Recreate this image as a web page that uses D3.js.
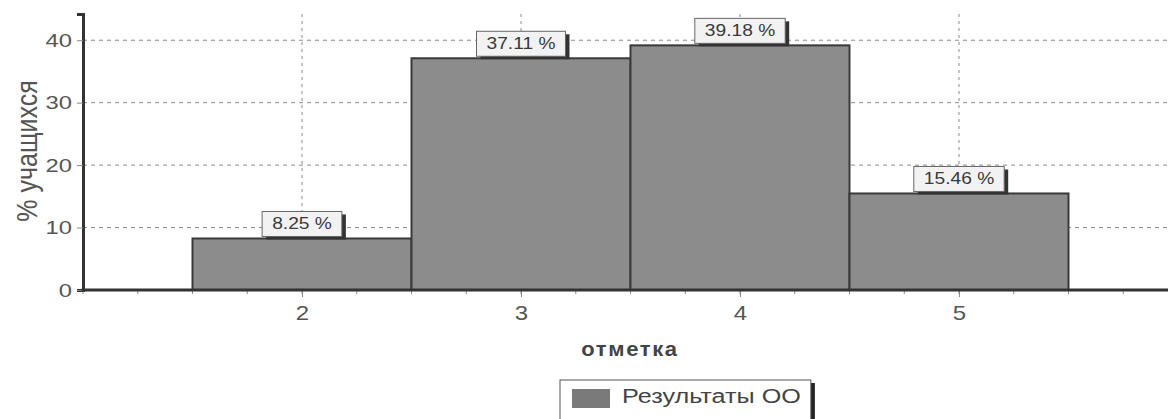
<!DOCTYPE html>
<html><head><meta charset="utf-8">
<script src="https://cdn.jsdelivr.net/npm/d3@7"></script>
<style>body{margin:0;background:#fff}svg{display:block}</style>
</head><body>
<svg id="c" width="1168" height="419"></svg>
<script>
const categories = [2, 3, 4, 5];
const values = [8.25, 37.11, 39.18, 15.46];
const labels = ["8.25 %", "37.11 %", "39.18 %", "15.46 %"];
const yTicks = [0, 10, 20, 30, 40];
const seriesName = "Результаты ОО";
const yTitle = "% учащихся";
const xTitle = "отметка";

const svg = d3.select("#c");
const font = "'Liberation Sans', Arial, sans-serif";
const SX = 1.2; // the reference text is horizontally wide
const x = d3.scaleLinear().domain([1, 6]).range([83, 1178]);
const y = d3.scaleLinear().domain([0, 44.2]).range([290, 14]);

// grid
const g = svg.append("g");
g.selectAll("line.h").data(yTicks.filter(d => d > 0)).enter().append("line")
  .attr("x1", x(1)).attr("x2", 1168).attr("y1", d => y(d)).attr("y2", d => y(d))
  .attr("stroke", "#8a8a8a").attr("stroke-width", 1).attr("stroke-dasharray", "4,4");
g.selectAll("line.v").data(categories).enter().append("line")
  .attr("x1", d => x(d)).attr("x2", d => x(d)).attr("y1", y(44.2)).attr("y2", y(0))
  .attr("stroke", "#8a8a8a").attr("stroke-width", 1).attr("stroke-dasharray", "3,4");

// bars
svg.selectAll("rect.bar").data(values).enter().append("rect")
  .attr("x", (d, i) => x(categories[i] - 0.5))
  .attr("width", (d, i) => x(categories[i] + 0.5) - x(categories[i] - 0.5))
  .attr("y", d => y(d)).attr("height", d => y(0) - y(d))
  .attr("fill", "#8c8c8c").attr("stroke", "#3a3a3a").attr("stroke-width", 2);

// axes
const yAxis = d3.axisLeft(y).tickValues(yTicks).tickSize(6).tickPadding(5);
const ya = svg.append("g").attr("transform", `translate(${x(1)},0)`).call(yAxis);
ya.select(".domain").attr("stroke", "#333").attr("stroke-width", 3);
ya.selectAll(".tick line").attr("stroke", "#888");
ya.selectAll(".tick text").attr("font-family", font).attr("font-size", 19).attr("fill", "#555")
  .attr("x", -11 / 1.25).attr("transform", "scale(1.25,1)");

const minor = d3.range(1, 6.01, 0.25);
svg.append("g").selectAll("line").data(minor).enter().append("line")
  .attr("x1", d => x(d)).attr("x2", d => x(d)).attr("y1", y(0)).attr("y2", y(0) + 4)
  .attr("stroke", "#888");
const xAxis = d3.axisBottom(x).tickValues(categories).tickSize(7).tickPadding(9).tickFormat(d3.format("d"));
const xa = svg.append("g").attr("transform", `translate(0,${y(0)})`).call(xAxis);
xa.select(".domain").remove();
xa.selectAll(".tick line").attr("stroke", "#888");
xa.selectAll(".tick text").attr("font-family", font).attr("font-size", 20).attr("fill", "#555")
  .attr("transform", "scale(1.2,1)");
svg.append("line").attr("x1", x(1) - 1.5).attr("x2", 1168).attr("y1", y(0)).attr("y2", y(0))
  .attr("stroke", "#333").attr("stroke-width", 3);

// value labels
const lg = svg.selectAll("g.lab").data(values).enter().append("g")
  .attr("transform", (d, i) => `translate(${x(categories[i])},${y(d)})`);
const texts = lg.append("text").attr("x", 0).attr("y", -9).attr("text-anchor", "middle")
  .attr("font-family", font).attr("font-size", 16).attr("fill", "#3a3a3a")
  .attr("transform", `scale(${SX},1)`)
  .text((d, i) => labels[i]);
texts.each(function () {
  const w = this.getComputedTextLength() * SX + 20;
  const p = d3.select(this.parentNode);
  p.insert("rect", "text").attr("x", -w / 2 + 4).attr("y", -24).attr("width", w).attr("height", 25).attr("fill", "#333");
  p.insert("rect", "text").attr("x", -w / 2).attr("y", -27).attr("width", w).attr("height", 25)
    .attr("fill", "#f2f2f2").attr("stroke", "#666").attr("stroke-width", 1);
});

// titles
svg.append("text").attr("transform", "translate(37,151) rotate(-90) scale(1,1.2)").attr("text-anchor", "middle")
  .attr("font-family", font).attr("font-size", 25).attr("fill", "#555").text(yTitle);
svg.append("text").attr("transform", "translate(630,356) scale(1.1,1)").attr("text-anchor", "middle")
  .attr("font-family", font).attr("font-size", 20).attr("font-weight", "bold").attr("fill", "#444")
  .attr("letter-spacing", 1.5).text(xTitle);

// legend
const L = svg.append("g").attr("transform", "translate(560,380)");
const lt = L.append("text").attr("transform", `translate(62,23) scale(${SX},1)`)
  .attr("font-family", font).attr("font-size", 21).attr("fill", "#444").text(seriesName);
const lw = 62 + lt.node().getComputedTextLength() * SX + 10;
L.insert("rect", "text").attr("x", 4).attr("y", 3).attr("width", lw).attr("height", 40).attr("fill", "#222");
L.insert("rect", "text").attr("x", 0).attr("y", 0).attr("width", lw).attr("height", 40).attr("fill", "#fff").attr("stroke", "#555");
L.insert("rect", "text").attr("x", 12).attr("y", 9).attr("width", 38).attr("height", 19).attr("fill", "#7a7a7a");
</script>
</body></html>
